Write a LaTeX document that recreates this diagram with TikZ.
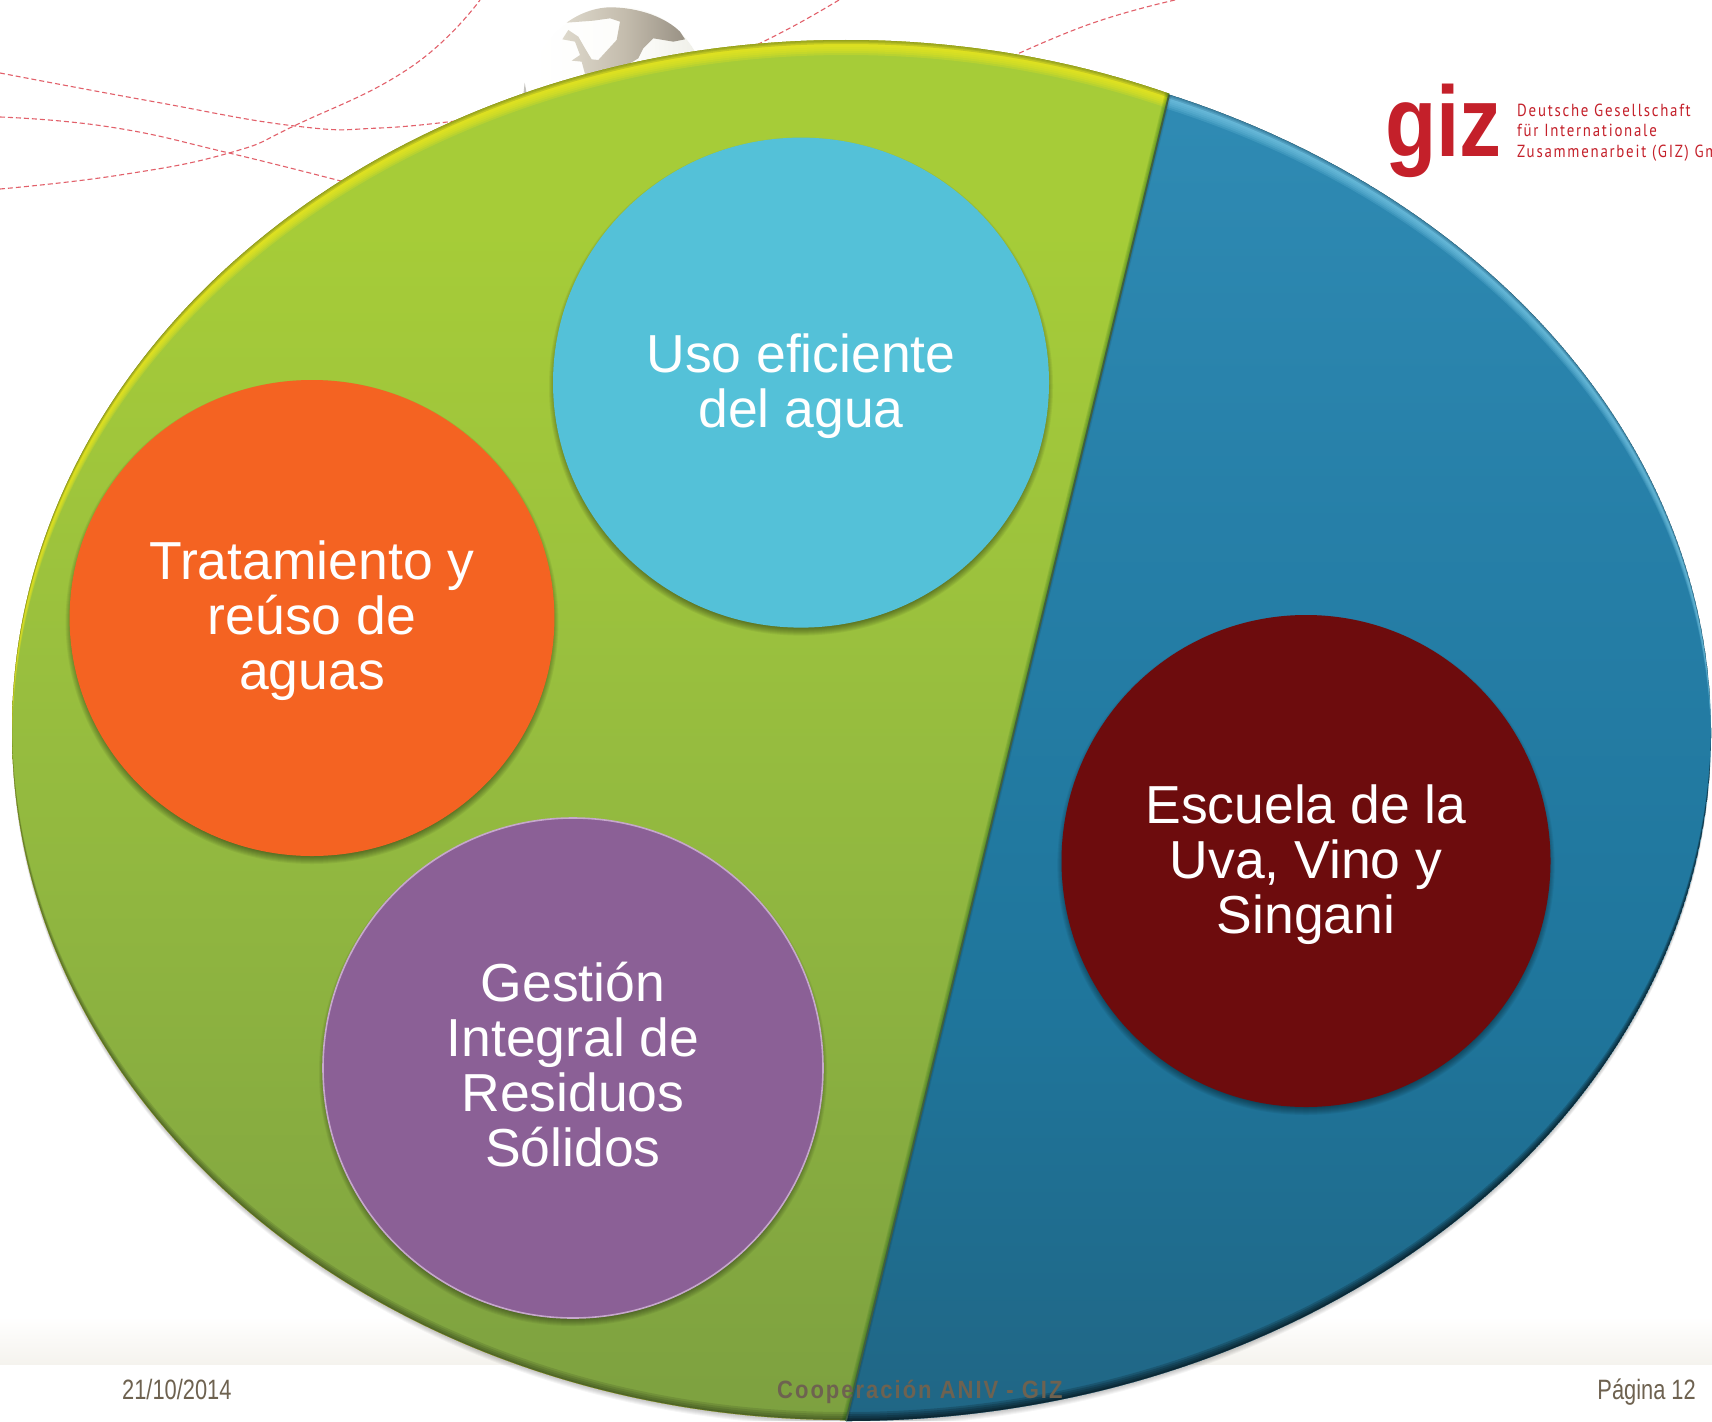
\documentclass[tikz,border=0pt]{standalone}
\usepackage{fontspec}
\usetikzlibrary{shapes.geometric}
\setmainfont{Liberation Sans}
\newfontfamily\narrowf[FakeStretch=0.78]{Liberation Sans}
\newfontfamily\logof[FakeStretch=0.84]{Liberation Sans}
\newfontfamily\spacedf[FakeStretch=0.88,LetterSpace=8]{Liberation Sans}
\newfontfamily\smallf[FakeStretch=0.85,LetterSpace=10]{PT Sans}
\definecolor{gizred}{HTML}{C4202A}
\definecolor{footbrown}{HTML}{6E6250}
\definecolor{route}{HTML}{E2606A}
\definecolor{usoc}{HTML}{54C1D8}
\definecolor{tratc}{HTML}{F46322}
\definecolor{gestc}{HTML}{8B6096}
\definecolor{gestb}{HTML}{C6A8CC}
\definecolor{escc}{HTML}{6D0C0D}
\definecolor{rimy}{HTML}{EFE81C}
\definecolor{rimb}{HTML}{7CCBE8}
\definecolor{band}{HTML}{F5F3EE}
\definecolor{olive}{HTML}{7F8F20}
\definecolor{deepb}{HTML}{2A6F90}
\pgfdeclareverticalshading{greenfill}{100bp}{rgb(0bp)=(0.49,0.63,0.25);rgb(25bp)=(0.49,0.63,0.25);rgb(45bp)=(0.57,0.72,0.25);rgb(55bp)=(0.61,0.76,0.24);rgb(68bp)=(0.65,0.80,0.22);rgb(75bp)=(0.65,0.80,0.22);rgb(100bp)=(0.65,0.80,0.22)}
\pgfdeclareverticalshading{bluefill}{100bp}{rgb(0bp)=(0.125,0.40,0.52);rgb(25bp)=(0.125,0.40,0.52);rgb(40bp)=(0.12,0.46,0.61);rgb(58bp)=(0.15,0.50,0.66);rgb(75bp)=(0.19,0.55,0.71);rgb(100bp)=(0.19,0.55,0.71)}
\pgfdeclarehorizontalshading{landfill}{100bp}{rgb(0bp)=(0.87,0.85,0.80);rgb(25bp)=(0.87,0.85,0.80);rgb(50bp)=(0.77,0.74,0.68);rgb(75bp)=(0.60,0.57,0.52);rgb(100bp)=(0.60,0.57,0.52)}
\pgfdeclarehorizontalshading{spherefill}{100bp}{rgb(0bp)=(1,1,1);rgb(25bp)=(1,1,1);rgb(55bp)=(0.99,0.99,0.98);rgb(75bp)=(0.93,0.93,0.90);rgb(100bp)=(0.93,0.93,0.90)}
\tikzset{
  bubble/.style={ellipse,inner sep=0pt},
  bubbletext/.style={inner sep=0pt,align=center,text=white,
    font=\fontsize{53.5}{55}\selectfont},
  routeline/.style={draw=route,line width=1.1pt,dash pattern=on 5pt off 3pt},
  footer/.style={inner sep=0pt,text=footbrown,font=\narrowf\fontsize{28}{32}\selectfont},
  smalllogo/.style={anchor=base west,inner sep=0pt,text=gizred,font=\smallf\fontsize{17.5}{20}\selectfont}
}
\newcommand{\softshadow}[4]{%
  \foreach \k in {-3,-2,-1,0,1,2,3,4}
    \fill[black,opacity=0.055] (#1,#2+4) ellipse [x radius=#3pt+\k pt,y radius=#4pt+\k pt];
}
\newcommand{\crescents}[6]{%
  \foreach \d in \shiftlist
    \fill[#5,opacity=#6,even odd rule] (#1,#2) ellipse [x radius=#3pt,y radius=#4pt]
      (#1,#2+\d) ellipse [x radius=#3pt,y radius=#4pt];
}
\begin{document}
\begin{tikzpicture}[x=1pt,y=-1pt]
\useasboundingbox (0,0) rectangle (1712,1421);
\fill[white] (0,0) rectangle (1712,1421);

% footer band
\shade[top color=white,bottom color=band] (0,1317) rectangle (1712,1364);

% route lines
\draw[routeline] plot[smooth,tension=0.8] coordinates {(0,73) (150,101) (295,126) (380,128) (470,119)};
\draw[routeline] plot[smooth,tension=0.8] coordinates {(0,117) (110,127) (229,153) (360,186)};
\draw[routeline] plot[smooth,tension=0.8] coordinates {(0,189) (120,175) (229,153) (296,125) (411,67) (480,0)};
\draw[routeline] plot[smooth,tension=0.8] coordinates {(839,0) (790,28) (730,58)};
\draw[routeline] plot[smooth,tension=0.8] coordinates {(1175,0) (1090,24) (1000,62)};

% globe
\begin{scope}[shift={(510,0)},x=0.3333pt,y=-0.3333pt]
  \shade[shading=spherefill] (325,285) circle [radius=88pt];
  \shade[shading=landfill] (170,68) .. controls (215,35) and (265,22) .. (300,22)
     .. controls (390,22) and (470,55) .. (510,95) -- (525,118) -- (490,125) -- (430,115)
     -- (400,145) -- (385,175) -- (360,190) -- (400,240) -- (230,240) -- (215,185) -- (185,182)
     -- (210,165) -- (195,125) -- (157,118) -- (175,90) -- (205,110) -- (225,145) -- (245,178)
     -- (265,180) -- (320,120) -- (330,65) -- (300,55) -- (250,62) -- cycle;
  \fill[band!80!black] (40,285) -- (44,248) -- (50,280) -- cycle;
\end{scope}

% outer soft shadow, slice by slice
\begin{scope}
  \clip (0,0) -- (1192,0) -- (846,1421) -- (0,1421) -- cycle;
  \foreach \k in {1,2,3,4,5,6}
    \fill[black,opacity=0.04] (846,730+\k) ellipse [x radius=834pt,y radius=690pt];
\end{scope}
\begin{scope}
  \clip (1192,0) -- (1712,0) -- (1712,1421) -- (846,1421) -- cycle;
  \foreach \k in {1,2,3,4,5,6}
    \fill[black,opacity=0.04] (846,733+\k) ellipse [x radius=865pt,y radius=688pt];
\end{scope}

% green slice
\begin{scope}
  \clip (0,0) -- (1192,0) -- (846,1421) -- (0,1421) -- cycle;
  \clip (846,730) ellipse [x radius=834pt,y radius=690pt];
  \shade[shading=greenfill] (846,730) ellipse [x radius=834pt,y radius=690pt];
  \def\shiftlist{15,13,11,9,7,5}
  \crescents{846}{730}{834}{690}{rimy}{0.24}
  \def\shiftlist{4,2.5,1.5}
  \crescents{846}{730}{834}{690}{olive}{0.3}
  \def\shiftlist{-8,-6,-4,-2}
  \crescents{846}{730}{834}{690}{black}{0.1}
  \foreach \k in {1,3,5,7,9}
    \draw[black!70!green,opacity=0.10,line width=\k pt] (1172,83) -- (846,1421);
\end{scope}

% blue slice
\begin{scope}
  \clip (1192,0) -- (1712,0) -- (1712,1421) -- (846,1421) -- cycle;
  \clip (846,733) ellipse [x radius=865pt,y radius=688pt];
  \shade[shading=bluefill] (846,733) ellipse [x radius=865pt,y radius=688pt];
  \def\shiftlist{15,13,11,9,7,5}
  \crescents{846}{733}{865}{688}{rimb}{0.2}
  \def\shiftlist{4,2.5,1.5}
  \crescents{846}{733}{865}{688}{deepb}{0.3}
  \def\shiftlist{-9,-7,-5,-3,-1.5}
  \crescents{846}{733}{865}{688}{black}{0.17}
  \foreach \k in {1,3,5}
    \draw[black,opacity=0.08,line width=\k pt] (1169,95) -- (846,1421);
\end{scope}
\draw[black!75!green!50!gray,line width=1.8pt] (1169,95) -- (846,1421);

% circles
\softshadow{801}{382.6}{248}{245}
\softshadow{312}{618}{242.4}{238}
\softshadow{573}{1068}{250}{250}
\softshadow{1306}{861}{244.6}{246}
\node[bubble,fill=usoc,minimum width=496pt,minimum height=490pt] (uso) at (801,382.6) {};
\node[bubble,fill=tratc,minimum width=484.8pt,minimum height=476pt] (trat) at (312,618) {};
\node[bubble,fill=gestc,draw=gestb,line width=1.6pt,minimum width=500pt,minimum height=500pt] (gest) at (573,1068) {};
\node[bubble,fill=escc,minimum width=489pt,minimum height=492pt] (esc) at (1306,861) {};
\node[bubbletext] (usotext) at ([yshift=-3.3pt]uso.center) {Uso eficiente\\del agua};
\node[bubbletext] (tratext) at ([yshift=-2.2pt]trat.center) {Tratamiento y\\reúso de\\aguas};
\node[bubbletext] (gestext) at ([yshift=3.2pt]gest.center) {Gestión\\Integral de\\Residuos\\Sólidos};
\node[bubbletext] (esctext) at ([yshift=-3.2pt]esc.center) {Escuela de la\\Uva, Vino y\\Singani};

% logo
\node[anchor=base west,inner sep=0pt,text=gizred,font=\logof\bfseries\fontsize{100}{100}\selectfont] (giz) at (1385,156) {giz};
\node[smalllogo] (l1) at (1517,116) {Deutsche Gesellschaft};
\node[smalllogo] (l2) at (1517,136.5) {für Internationale};
\node[smalllogo] (l3) at (1517,157) {Zusammenarbeit (GIZ) Gm};

% footer
\node[footer,anchor=base west] (date) at (122,1399) {21/10/2014};
\node[footer,anchor=base east] (page) at (1696,1399) {Página 12};
\node[anchor=base west,inner sep=0pt,text=footbrown,font=\spacedf\bfseries\fontsize{25}{28}\selectfont] (coop) at (777,1398) {Cooperación ANIV - GIZ};
\end{tikzpicture}
\end{document}
